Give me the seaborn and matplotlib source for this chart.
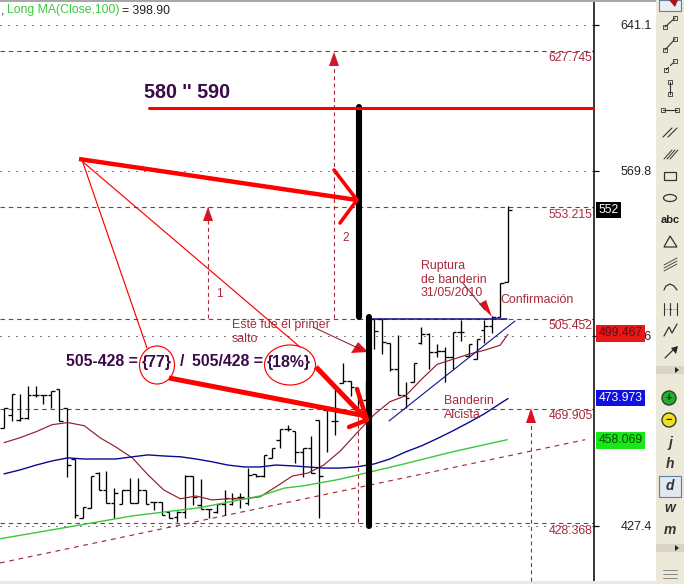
import matplotlib
matplotlib.use('Agg')
import matplotlib.pyplot as plt
import seaborn as sns
from matplotlib.patches import Ellipse, Polygon, Rectangle
from matplotlib.ticker import NullLocator

# OHLC bars, one per trading day
highs = [470.2, 475.7, 475.7, 478.8, 478.8, 475.3, 476.9, 477.3, 470.2, 451.2,
         434.0, 445.0, 446.6, 447.0, 440.6, 440.0, 444.2, 444.2, 440.0, 435.9,
         435.9, 432.4, 432.7, 445.4, 445.0, 443.9, 433.2, 435.0, 440.0, 439.0,
         439.0, 447.8, 445.8, 452.7, 455.2, 462.3, 463.9, 461.4, 455.2, 459.8,
         465.5, 469.6, 477.3, 487.8, 480.6, 478.0, 480.6, 505.3, 505.3, 495.5,
         498.7, 480.1, 487.8, 502.0, 499.6, 495.1, 493.8, 500.1, 505.0, 495.1,
         497.4, 505.0, 506.6, 520.2, 553.9]
lows = [462.7, 465.2, 465.2, 466.0, 474.4, 471.9, 470.2, 465.2, 444.8, 430.1,
        430.1, 433.6, 440.0, 435.3, 430.1, 435.0, 435.3, 435.5, 435.0, 433.0,
        431.2, 430.1, 428.9, 430.1, 434.7, 433.2, 430.1, 431.8, 431.2, 434.7,
        433.6, 434.7, 444.8, 444.8, 451.6, 455.2, 461.4, 449.9, 444.8, 446.0,
        430.1, 453.9, 460.2, 479.9, 474.7, 470.2, 473.4, 493.1, 491.1, 484.4,
        475.3, 470.3, 480.1, 495.1, 485.1, 490.2, 480.1, 485.1, 496.4, 490.4,
        489.4, 495.5, 499.8, 506.0, 520.7]
opens = [462.7, 467.4, 465.5, 466.4, 475.3, 475.3, 475.3, 477.3, 470.2, 451.2,
         430.1, 433.6, 446.0, 440.0, 435.3, 435.0, 440.0, 435.5, 440.0, 435.9,
         435.9, 432.4, 430.6, 432.4, 445.0, 434.7, 433.2, 432.4, 435.0, 435.0,
         437.7, 435.5, 445.8, 445.0, 451.6, 458.3, 462.3, 461.4, 453.9, 455.2,
         465.5, 469.6, 465.2, 479.9, 480.6, 478.0, 473.4, 505.3, 505.3, 495.5,
         485.1, 475.3, 480.1, 495.5, 499.1, 492.0, 492.4, 490.2, 500.1, 490.4,
         489.4, 500.9, 502.3, 506.0, 520.7]
closes = [470.2, 475.7, 466.4, 475.3, 475.3, 475.3, 476.9, 465.2, 449.0, 431.2,
          434.0, 445.0, 440.0, 435.3, 438.8, 440.0, 435.5, 440.0, 435.0, 435.9,
          431.2, 430.1, 432.4, 445.0, 437.7, 433.2, 433.2, 435.0, 437.1, 437.1,
          437.7, 445.4, 445.0, 452.7, 455.2, 462.3, 462.3, 453.9, 455.2, 446.0,
          445.0, 469.6, 465.2, 480.6, 478.3, 473.4, 480.6, 500.5, 495.9, 485.1,
          475.3, 474.2, 487.8, 499.1, 492.0, 492.4, 490.2, 500.1, 500.1, 495.1,
          497.4, 502.3, 506.1, 520.2, 552.0]

# moving averages
ma_x = [0, 2, 4.1, 6.1, 8.1, 10.2, 12.2, 14.2, 16.3, 18.3, 20.3, 22.4, 24.4,
        26.4, 28.4, 30.5, 32.5, 34.5, 36.6, 38.6, 40.6, 42.7, 44.7, 47, 49, 51,
        53, 55, 57, 59, 61, 63, 64]
short_ma = [457.2, 459.0, 461.3, 463.9, 464.7, 463.5, 459.0, 455.6, 451.6, 445.4,
            440.0, 436.9, 437.9, 436.5, 436.9, 436.9, 437.6, 441.1, 445.0, 446.1,
            449.0, 454.1, 460.5, 467.7, 472.6, 474.9, 481.2, 487.1, 489.1, 491.1,
            492.7, 494.7, 499.1]
mid_ma = [445.8, 447.2, 449.0, 450.5, 451.6, 451.2, 451.2, 451.2, 452.0, 452.7,
          452.3, 452.0, 451.2, 450.2, 449.0, 448.3, 448.3, 449.0, 448.7, 448.3,
          447.9, 447.9, 448.3, 449.4, 451.2, 453.8, 456.0, 458.7, 461.6, 464.7,
          468.0, 471.9, 473.8]
long_x = [-0.5, 8.1, 16.3, 24.9, 32.5, 35.6, 38, 42.7, 50.8, 56.9, 63.9]
long_ma = [423.0, 427.0, 430.9, 433.8, 437.9, 440.7, 441.5, 443.9, 449.4, 453.8, 458.3]

# levels and axis labels
levels = [627.745, 553.215, 505.452, 469.905, 428.368]
tick_vals = [641.1, 569.8, 498.6, 427.4]
trend_x = [-0.5, 73.8]
trend_y = [414.8, 458.3]
badges = [(552, '552', 'black', 'white'),
          (499.467, '499.467', '#E81818', '#5a1010'),
          (473.973, '473.973', '#1010E0', 'white'),
          (458.069, '458.069', '#18E818', '#0a4a0a')]

RED = '#A62A3C'
PURPLE = '#3B0A48'

sns.set_theme(style='white')
plt.rcParams['font.family'] = ['Liberation Sans', 'DejaVu Sans']

fig = plt.figure(figsize=(6.84, 5.84), dpi=100)
ax = fig.add_axes([0, 0, 594 / 684, 1])
ax.set_yscale('log')
ax.set_xlim(-0.508, 74.92)
ax.set_ylim(407.8, 654.1)

# log scale but evenly priced ticks, like the trading software
ax.set_yticks(tick_vals)
ax.set_yticklabels([str(t) for t in tick_vals], ha='right', fontsize=9, color='#222222')
ax.yaxis.set_minor_locator(NullLocator())
ax.set_xticks([])
ax.tick_params(axis='y', left=False, labelleft=False, right=True, labelright=True,
               direction='out', length=3.6, width=0.9, pad=38, color='black')
ax.yaxis.grid(True, linestyle=(0, (1, 7)), color='black', linewidth=0.72)
ax.set_axisbelow(True)
for side in ['left', 'top', 'bottom']:
    ax.spines[side].set_visible(False)
ax.spines['right'].set_linewidth(1.1)
ax.spines['right'].set_color('black')

# price bars
idx = list(range(len(highs)))
ax.vlines(idx, lows, highs, color='black', linewidth=0.95, zorder=3)
ax.hlines(opens, [i - 0.45 for i in idx], idx, color='black', linewidth=0.95, zorder=3)
ax.hlines(closes, idx, [i + 0.45 for i in idx], color='black', linewidth=0.95, zorder=3)

sns.lineplot(x=ma_x, y=short_ma, ax=ax, color='#8E1F2E', linewidth=0.85, zorder=4)
sns.lineplot(x=ma_x, y=mid_ma, ax=ax, color='#0A0A90', linewidth=1.0, zorder=4)
sns.lineplot(x=long_x, y=long_ma, ax=ax, color='#38C838', linewidth=1.0, zorder=4)
ax.plot(trend_x, trend_y, color=RED, linewidth=0.85, linestyle=(0, (4, 4)), zorder=2)

# support / resistance levels with their labels
for lev in levels:
    ax.axhline(lev, color=RED, linewidth=0.8, linestyle=(0, (4, 3.5)), zorder=2)
    ax.annotate(f'{lev}', (1, lev), xycoords=ax.get_yaxis_transform(), xytext=(-1, -5.5),
                textcoords='offset points', ha='right', va='center', fontsize=8.8, color=RED)

# last value badges on the price axis
for val, txt, bg, fg in badges:
    ax.annotate(txt, (1, val), xycoords=ax.get_yaxis_transform(), xytext=(3.2, 0),
                textcoords='offset points', ha='left', va='center', fontsize=8.8, color=fg,
                bbox=dict(fc=bg, ec='none', pad=1.6), annotation_clip=False, zorder=6)

# everything hand drawn over the chart lives in a pixel sized overlay
ov = fig.add_axes([0, 0, 1, 1], zorder=5)
ov.set_xlim(0, 684)
ov.set_ylim(584, 0)
ov.axis('off')


def seg(xs, ys, color='red', lw=1.0, **kw):
    ov.plot(xs, ys, color=color, linewidth=lw, **kw)


def head(x, tip, base, half=5):
    ov.add_patch(Polygon([(x, tip), (x - half, base), (x + half, base)], color='#E01020', lw=0))


# projection arrows
dash = (0, (3.5, 3))
for x, y0, y1 in [(334, 318, 52), (208, 318, 207), (531, 581, 409), (358, 522, 405)]:
    seg([x, x], [y0, y1], color=RED, lw=0.8, linestyle=dash)
head(334, 52, 66)
head(208, 207, 221)
head(531, 408, 423)
ov.text(219, 294, '1', color=RED, fontsize=8.5, ha='center', va='center')
ov.text(345.5, 238, '2', color=RED, fontsize=8.5, ha='center', va='center')

# thick black measuring bars
seg([359, 359], [107, 317], color='black', lw=4.4, solid_capstyle='round')
seg([369, 369], [317, 526], color='black', lw=4.4, solid_capstyle='round')

# target line
seg([149, 593], [108, 108], lw=2.2)
ov.text(144, 93, "580 '' 590", color=PURPLE, fontsize=14.2, fontweight='bold',
        ha='left', va='center')

# big red arrows
seg([79, 357], [159, 200], lw=3.2, solid_capstyle='butt')
seg([334, 357, 340], [170, 200, 223], lw=2.6)
seg([169, 366], [378, 416], lw=3.6, solid_capstyle='butt')
seg([316, 367], [367, 420], lw=3.6, solid_capstyle='butt')
seg([357, 367, 349], [389, 420, 427], lw=3.2)

# thin lines from the arrow start to the circles
seg([82, 147], [160, 348], lw=0.85)
seg([83, 300], [162, 347], lw=0.85)
ov.add_patch(Ellipse((157, 365), 35, 38, fc='none', ec='red', lw=0.85))
ov.add_patch(Ellipse((290, 365), 51, 40, fc='none', ec='red', lw=0.85))

for x, s in [(66, '505-428 ='), (142, '{77}'), (180, '/'), (192, '505/428 ='), (267, '{18%}')]:
    ov.text(x, 362, s, color=PURPLE, fontsize=11.4, fontweight='bold',
            ha='left', va='center')

# flag and notes
seg([372, 507], [319, 319], color='#10108C', lw=1.1)
seg([389, 515], [421, 321], color='#10108C', lw=0.8)
seg([313, 360], [327, 349], color='#8E1F2E', lw=0.75)
ov.add_patch(Polygon([(368, 352), (351, 353), (358, 342)], color='#E01020', lw=0))
seg([462, 485], [282, 310], color='#8E1F2E', lw=0.75)
ov.add_patch(Polygon([(492, 317), (479, 304), (486, 300)], color='#E01020', lw=0))

notes = [(421, 266, 'Ruptura'), (421, 280, 'de banderin'), (421, 293.5, '31/05/2010'),
         (500, 300, 'Confirmación'), (444, 401, 'Banderin'), (444, 415, 'Alcista'),
         (232, 325, 'Este fue el primer'), (232, 339, 'salto')]
for x, y, s in notes:
    ov.text(x, y, s, color=RED, fontsize=8.9, ha='left', va='center')

# header with the moving average name
ov.text(1, 11, ',', color='#222222', fontsize=8.8, va='center')
ov.text(7, 10.5, 'Long MA(Close,100)', color='#3CC83C', fontsize=8.8, va='center')
ov.text(122, 10.5, '= 398.90', color='#222222', fontsize=8.8, va='center')
ov.add_patch(Rectangle((0, 0), 656, 2, color='#A8A8A8', lw=0))
ov.add_patch(Rectangle((0, 581), 656, 3, color='#E8E8E8', lw=0))

# toolbar on the right
ov.add_patch(Rectangle((656, 0), 28, 584, color='#ECE9D8', lw=0, zorder=0.5))
ink = '#333333'
ov.add_patch(Rectangle((659, 0), 22, 11, fc='#E8EEF4', ec='#6080A0', lw=0.8))
ov.add_patch(Polygon([(669, 0), (678, 0), (675, 7)], color='#B01010', lw=0))


def tool_line(x0, y0, x1, y1, marks=True, ls='-'):
    seg([x0, x1], [y0, y1], color=ink, lw=0.8, linestyle=ls)
    if marks:
        ov.plot([x0, x1], [y0, y1], 's', mfc='none', mec=ink, ms=2.5, mew=0.6)


tool_line(665, 27, 675, 18)
tool_line(665, 50, 675, 39, ls='-')
tool_line(666, 70, 675, 61, ls='--')
tool_line(670, 82, 670, 94)
tool_line(663, 110, 677, 110)
seg([663, 672], [137, 128], color=ink, lw=0.8)
seg([668, 677], [137, 128], color=ink, lw=0.8)
for dx in [0, 3, 6]:
    seg([664 + dx, 672 + dx], [159, 150], color=ink, lw=0.7)
ov.add_patch(Rectangle((664, 172), 12, 8, fc='none', ec=ink, lw=0.9))
ov.add_patch(Ellipse((670, 198), 13, 7, fc='none', ec=ink, lw=0.9))
ov.text(670, 220, 'abc', color='#222222', fontsize=8, fontweight='bold', ha='center', va='center')
ov.add_patch(Polygon([(670, 236), (664, 247), (677, 247)], fc='none', ec=ink, lw=0.9))
for dy in [0, 3, 6]:
    seg([664, 677], [265 + dy, 258 + dy], color=ink, lw=0.6)
ax_arc = [(664, 290), (666, 286), (670, 284), (674, 286), (677, 290)]
seg([p[0] for p in ax_arc], [p[1] for p in ax_arc], color=ink, lw=0.9)
seg([664, 677], [309, 309], color=ink, lw=0.6, linestyle=':')
for x in [664, 670, 677]:
    seg([x, x], [303, 315], color=ink, lw=0.8)
seg([664, 669, 672, 677], [336, 327, 333, 324], color=ink, lw=0.9)
seg([665, 675], [358, 348], color=ink, lw=0.9)
ov.add_patch(Polygon([(678, 346), (671, 348), (676, 354)], color='#222222', lw=0))
ov.add_patch(Rectangle((656, 366), 28, 8, color='#D8D5C6', lw=0))
ov.add_patch(Polygon([(675, 367), (675, 373), (679, 370)], color='#222222', lw=0))
for cy, col, sign in [(398, '#20B030', '+'), (420, '#F0E020', '\u2212')]:
    ov.add_patch(Ellipse((669, cy), 14, 14, fc=col, ec='#304030', lw=1.0))
    ov.text(669, cy - 0.5, sign, color='#103010', fontsize=8, fontweight='bold',
            ha='center', va='center')
ov.add_patch(Rectangle((659, 476), 22, 21, fc='#E0E8F0', ec='#6080A0', lw=0.8))
for cy, s in [(443, 'j'), (464, 'h'), (486, 'd'), (508, 'w'), (530, 'm')]:
    ov.text(670, cy, s, color='#333333', fontsize=10, fontweight='bold', style='italic',
            ha='center', va='center')
ov.add_patch(Rectangle((656, 544), 28, 8, color='#D8D5C6', lw=0))
ov.add_patch(Polygon([(675, 545), (675, 551), (679, 548)], color='#222222', lw=0))
for y in [570, 574, 578]:
    seg([663, 677], [y, y], color='#888888', lw=0.7)

fig.savefig('out.png', dpi=100)
